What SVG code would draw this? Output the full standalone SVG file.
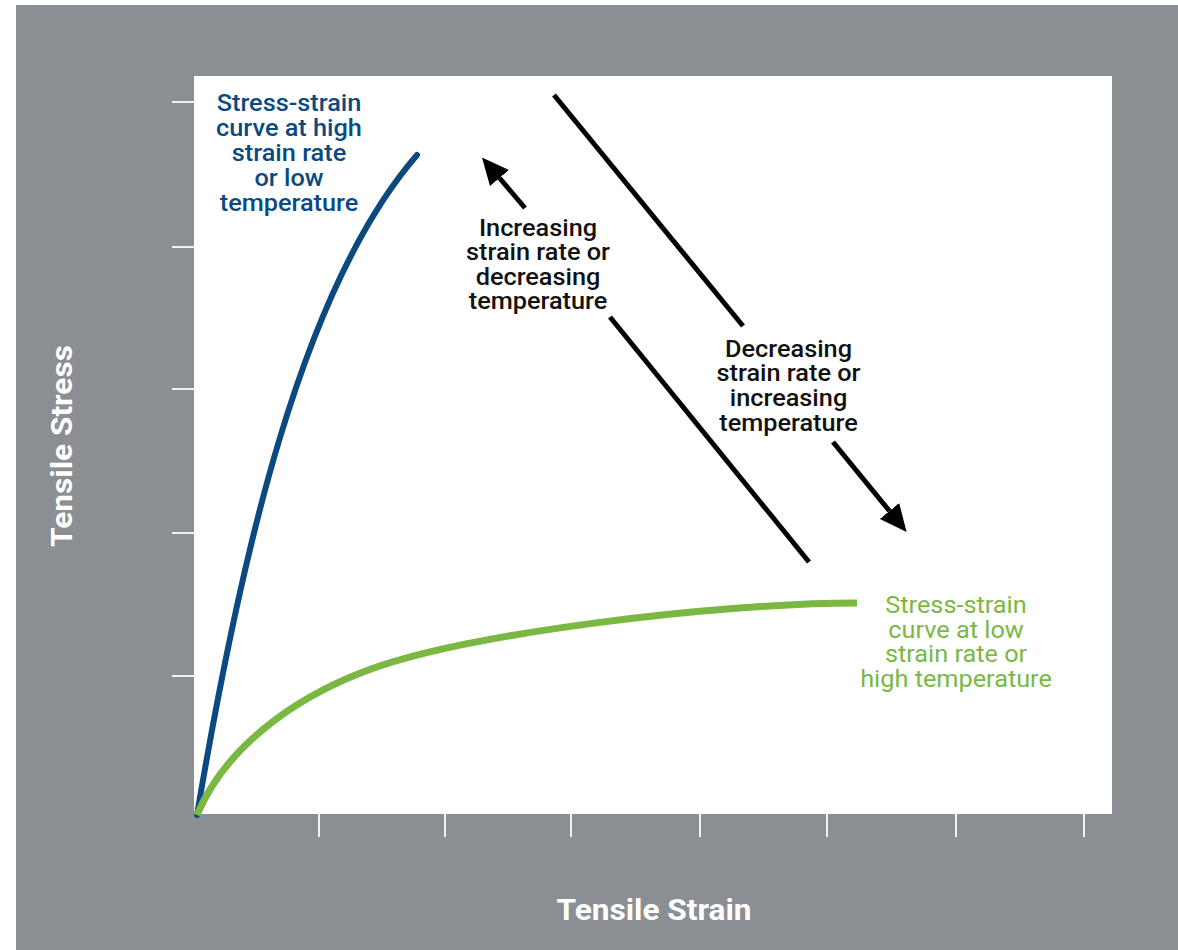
<svg xmlns="http://www.w3.org/2000/svg" width="1178" height="950" viewBox="0 0 1178 950">
  <style>
    text { font-family: Roboto, "Liberation Sans", sans-serif; text-anchor: middle; }
    .lbl { font-size: 23px; font-weight: 500; }
    .blue { fill: #0b4a80; }
    .blk { fill: #111111; }
    .grn { fill: #7ab843; font-weight: 400; }
    .axis { font-size: 29px; font-weight: 700; fill: #ffffff; }
    .tick { stroke: #f2f2f2; stroke-width: 2; }
    .arr { stroke: #000000; stroke-width: 5; fill: none; stroke-linecap: butt; }
  </style>
  <defs>
    <marker id="head" markerUnits="userSpaceOnUse" markerWidth="27" markerHeight="25" viewBox="0 0 27 25" refX="0" refY="12.5" orient="auto">
      <path d="M0,0 L27,12.5 L0,25 z" fill="#000000"/>
    </marker>
  </defs>

  <rect x="0" y="0" width="1178" height="950" fill="#ffffff"/>
  <rect x="16" y="5" width="1162" height="945" fill="#8b8f93"/>

  <g id="plot-area">
    <rect x="194" y="76" width="918" height="738" fill="#ffffff"/>
  </g>

  <g id="axis-ticks">
    <line class="tick" x1="172" y1="102" x2="194" y2="102"/>
    <line class="tick" x1="172" y1="247" x2="194" y2="247"/>
    <line class="tick" x1="172" y1="389" x2="194" y2="389"/>
    <line class="tick" x1="172" y1="533" x2="194" y2="533"/>
    <line class="tick" x1="172" y1="676" x2="194" y2="676"/>
    <line class="tick" x1="319" y1="814" x2="319" y2="837"/>
    <line class="tick" x1="445" y1="814" x2="445" y2="837"/>
    <line class="tick" x1="571" y1="814" x2="571" y2="837"/>
    <line class="tick" x1="700" y1="814" x2="700" y2="837"/>
    <line class="tick" x1="827" y1="814" x2="827" y2="837"/>
    <line class="tick" x1="956" y1="814" x2="956" y2="837"/>
    <line class="tick" x1="1084" y1="814" x2="1084" y2="837"/>
  </g>

  <g id="curve-high-rate">
    <path d="M197,815 C240,560 300,290 417,155" fill="none" stroke="#0b4a80" stroke-width="6" stroke-linecap="round"/>
  </g>
  <g id="curve-low-rate">
    <path d="M197,815 C225,748 292,699.5 363,672 C463,633 720,603 857,603" fill="none" stroke="#7ab843" stroke-width="7"/>
  </g>

  <g id="connectors">
    <line class="arr" x1="554" y1="95" x2="743" y2="326"/>
    <line class="arr" x1="833" y1="442" x2="889.5" y2="511" marker-end="url(#head)"/>
    <line class="arr" x1="610" y1="317" x2="809" y2="562"/>
    <line class="arr" x1="525" y1="208" x2="499.5" y2="178" marker-end="url(#head)"/>
  </g>

  <g id="label-high-rate" transform="translate(289 0) scale(1.1 1)">
    <text class="lbl blue" x="0" y="111">Stress-strain</text>
    <text class="lbl blue" x="0" y="136">curve at high</text>
    <text class="lbl blue" x="0" y="161">strain rate</text>
    <text class="lbl blue" x="0" y="186">or low</text>
    <text class="lbl blue" x="0" y="211">temperature</text>
  </g>

  <g id="label-increasing" transform="translate(538 0) scale(1.1 1)">
    <text class="lbl blk" x="0" y="236">Increasing</text>
    <text class="lbl blk" x="0" y="260.5">strain rate or</text>
    <text class="lbl blk" x="0" y="285">decreasing</text>
    <text class="lbl blk" x="0" y="309.5">temperature</text>
  </g>

  <g id="label-decreasing" transform="translate(788.5 0) scale(1.1 1)">
    <text class="lbl blk" x="0" y="357">Decreasing</text>
    <text class="lbl blk" x="0" y="381.5">strain rate or</text>
    <text class="lbl blk" x="0" y="406.5">increasing</text>
    <text class="lbl blk" x="0" y="431.5">temperature</text>
  </g>

  <g id="label-low-rate" transform="translate(956 0) scale(1.1 1)">
    <text class="lbl grn" x="0" y="613">Stress-strain</text>
    <text class="lbl grn" x="0" y="638">curve at low</text>
    <text class="lbl grn" x="0" y="662.5">strain rate or</text>
    <text class="lbl grn" x="0" y="687.5">high temperature</text>
  </g>

  <g id="axis-x-title" transform="translate(654 920) scale(1.09 1)">
    <text class="axis" x="0" y="0">Tensile Strain</text>
  </g>
  <g id="axis-y-title" transform="translate(72 446) rotate(-90) scale(1.09 1)">
    <text class="axis" x="0" y="0">Tensile Stress</text>
  </g>
</svg>
